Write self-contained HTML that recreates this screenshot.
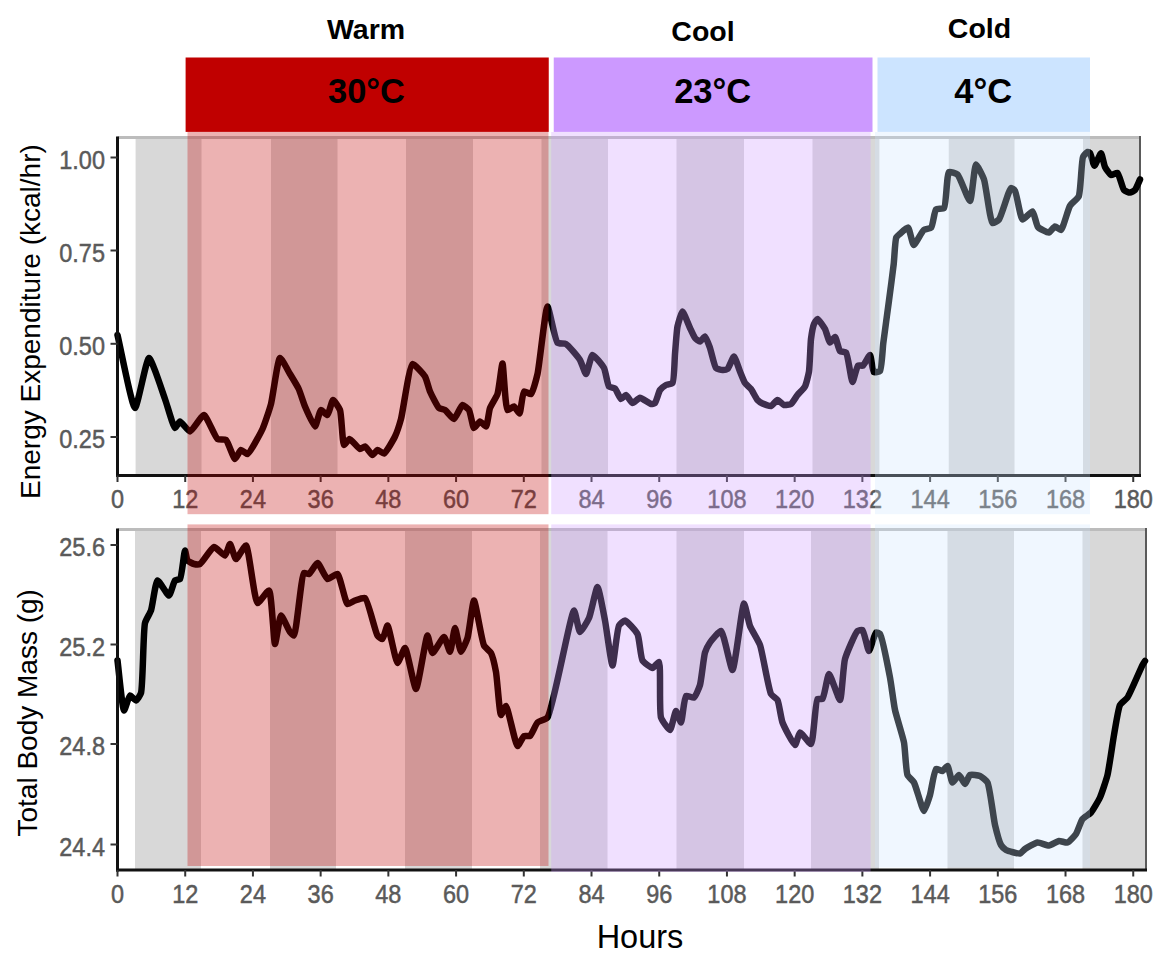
<!DOCTYPE html>
<html><head><meta charset="utf-8"><title>Chart</title>
<style>html,body{margin:0;padding:0;background:#fff;width:1160px;height:976px;overflow:hidden}svg{display:block}</style>
</head><body><svg width="1160" height="976" viewBox="0 0 1160 976"><g><rect x="0" y="0" width="1160" height="976" fill="#fff"/>
<rect x="135.6" y="137.5" width="65.90" height="338.0" fill="#d8d8d8"/>
<rect x="271" y="137.5" width="66.50" height="338.0" fill="#d8d8d8"/>
<rect x="406" y="137.5" width="67.00" height="338.0" fill="#d8d8d8"/>
<rect x="541.5" y="137.5" width="66.50" height="338.0" fill="#d8d8d8"/>
<rect x="676.5" y="137.5" width="67.50" height="338.0" fill="#d8d8d8"/>
<rect x="812.5" y="137.5" width="66.90" height="338.0" fill="#d8d8d8"/>
<rect x="948.75" y="137.5" width="65.75" height="338.0" fill="#d8d8d8"/>
<rect x="1083" y="137.5" width="57.00" height="338.0" fill="#d8d8d8"/>
<rect x="135" y="529.5" width="66.00" height="340.5" fill="#d8d8d8"/>
<rect x="270" y="529.5" width="66.00" height="340.5" fill="#d8d8d8"/>
<rect x="405" y="529.5" width="67.00" height="340.5" fill="#d8d8d8"/>
<rect x="540" y="529.5" width="67.50" height="340.5" fill="#d8d8d8"/>
<rect x="676.5" y="529.5" width="67.50" height="340.5" fill="#d8d8d8"/>
<rect x="811" y="529.5" width="68.00" height="340.5" fill="#d8d8d8"/>
<rect x="947.5" y="529.5" width="66.50" height="340.5" fill="#d8d8d8"/>
<rect x="1082.5" y="529.5" width="62.50" height="340.5" fill="#d8d8d8"/>
<line x1="117.5" y1="137.5" x2="1140" y2="137.5" stroke="#bcbcbc" stroke-width="3"/>
<line x1="1140" y1="136.0" x2="1140" y2="475.5" stroke="#5a5a5a" stroke-width="2"/>
<line x1="117.5" y1="529.5" x2="1146" y2="529.5" stroke="#bcbcbc" stroke-width="3"/>
<line x1="1146" y1="528.0" x2="1146" y2="870" stroke="#5a5a5a" stroke-width="2"/>
<path d="M117.50,335.00 C120.42,347.17 132.14,407.95 135.00,408.00 C137.38,408.04 146.37,358.13 149.00,358.00 C151.42,357.88 162.70,392.74 165.00,399.00 C166.92,404.23 173.37,427.73 175.00,428.00 C175.84,428.14 178.98,421.57 180.00,421.50 C181.34,421.41 188.24,431.57 190.00,431.50 C192.18,431.41 201.83,414.79 204.00,415.00 C206.45,415.24 215.06,437.38 217.50,439.00 C218.86,439.91 224.76,439.11 226.00,440.00 C227.94,441.39 233.56,458.90 235.00,459.00 C236.03,459.08 239.84,450.25 241.00,450.00 C241.97,449.79 246.35,454.28 247.50,454.00 C249.75,453.45 260.52,433.28 262.50,429.00 C264.39,424.93 269.71,408.85 271.00,404.00 C272.72,397.54 277.81,358.40 280.00,358.00 C281.39,357.74 288.41,371.36 290.00,374.00 C291.53,376.53 297.51,386.34 298.75,389.00 C300.03,391.75 303.73,403.53 305.00,406.50 C306.39,409.76 313.62,426.58 315.00,426.50 C316.22,426.43 319.65,410.39 321.00,410.00 C321.92,409.73 326.59,415.26 327.50,415.00 C328.76,414.63 331.86,400.15 333.00,400.00 C334.00,399.87 339.12,407.68 340.00,410.00 C341.49,413.94 342.50,444.51 344.00,445.00 C344.72,445.23 348.41,439.04 349.50,439.00 C350.95,438.95 358.50,448.78 360.00,449.00 C360.93,449.14 364.15,446.33 365.00,446.50 C366.21,446.74 371.36,454.96 372.50,455.00 C373.40,455.03 376.55,450.14 377.50,450.00 C378.47,449.86 382.91,453.78 384.00,453.50 C385.81,453.04 393.57,439.44 395.00,436.50 C396.37,433.69 399.96,422.77 401.00,419.00 C402.81,412.43 409.43,364.91 412.50,364.00 C414.22,363.49 423.53,374.13 425.00,376.50 C426.39,378.74 428.91,388.99 430.00,391.50 C431.19,394.24 437.36,406.63 439.00,408.00 C439.95,408.80 443.98,409.37 445.00,410.00 C446.45,410.90 452.62,419.17 454.00,419.00 C455.57,418.81 461.02,405.28 462.50,405.00 C463.55,404.80 468.13,408.71 469.00,410.00 C470.32,411.95 472.80,427.71 474.00,428.00 C474.83,428.20 478.97,421.57 480.00,421.50 C480.97,421.44 485.22,426.77 486.00,426.50 C487.21,426.08 488.97,410.80 490.00,408.00 C490.94,405.43 496.52,396.88 497.50,394.00 C498.86,389.98 501.74,363.48 502.50,363.50 C503.44,363.53 505.31,408.85 507.50,410.00 C508.37,410.46 513.04,406.30 514.00,406.50 C515.06,406.72 518.76,413.68 519.50,413.50 C520.68,413.22 522.44,392.38 524.00,391.50 C524.90,390.99 530.03,394.48 531.00,394.00 C532.63,393.20 536.47,378.37 537.50,374.00 C539.35,366.12 545.50,306.62 547.50,306.50 C548.98,306.41 554.96,340.50 557.50,342.75 C558.72,343.82 564.56,343.21 566.00,344.00 C568.27,345.24 578.29,357.28 580.00,360.00 C581.45,362.30 585.03,374.04 586.00,374.00 C587.12,373.96 590.91,355.32 592.50,355.00 C593.98,354.70 602.63,365.46 604.00,368.00 C605.44,370.67 607.59,385.01 609.00,386.50 C609.81,387.36 614.12,387.78 615.00,388.50 C616.22,389.50 619.92,398.79 621.00,399.00 C621.79,399.15 625.16,394.91 626.00,395.00 C627.07,395.11 631.29,402.83 632.50,403.00 C633.64,403.16 638.61,397.82 640.00,397.75 C641.64,397.67 649.59,403.81 651.00,404.00 C651.80,404.11 654.41,403.52 655.00,403.00 C656.09,402.04 658.88,391.56 660.00,390.00 C660.84,388.83 664.92,385.59 666.00,385.00 C667.01,384.45 671.70,383.99 672.50,383.00 C674.15,380.96 674.58,358.77 675.00,354.00 C675.41,349.36 676.69,330.35 677.50,326.50 C678.11,323.58 681.51,311.55 682.50,311.50 C683.57,311.44 688.86,325.60 690.00,328.00 C690.90,329.88 694.00,336.84 695.00,338.00 C695.74,338.86 699.20,341.57 700.00,341.50 C700.87,341.42 704.26,336.36 705.00,336.50 C705.99,336.69 709.19,345.79 710.00,348.00 C711.04,350.85 714.43,366.42 716.00,368.00 C716.90,368.90 721.48,369.95 722.50,370.00 C723.38,370.04 726.73,369.57 727.50,369.00 C728.77,368.04 732.99,356.45 734.00,356.50 C735.08,356.55 739.03,369.17 740.00,371.50 C740.86,373.55 743.96,381.47 745.00,383.00 C745.86,384.26 750.05,387.78 751.00,389.00 C752.16,390.50 756.34,398.75 757.50,400.00 C758.30,400.86 761.51,403.02 762.50,403.50 C763.69,404.07 769.75,406.29 771.00,406.00 C772.25,405.71 776.40,400.05 777.50,400.00 C778.56,399.95 782.83,404.69 784.00,405.00 C785.09,405.29 789.97,404.62 791.00,404.00 C792.29,403.22 796.34,396.45 797.50,395.00 C798.67,393.53 804.06,388.25 805.00,386.50 C806.10,384.45 808.51,374.51 809.00,371.50 C809.71,367.15 810.43,343.37 811.00,339.00 C811.39,336.01 813.24,325.78 814.00,324.00 C814.48,322.88 816.80,319.01 817.50,319.00 C818.51,318.98 823.98,327.13 825.00,329.00 C826.10,331.01 828.98,342.30 830.00,342.50 C830.74,342.64 834.27,336.85 835.00,337.00 C836.04,337.21 838.73,349.85 840.00,351.00 C840.82,351.74 845.16,351.63 846.00,352.50 C847.86,354.41 851.34,381.94 852.50,382.00 C853.37,382.05 856.67,366.56 858.00,365.60 C858.71,365.09 862.21,366.03 863.00,365.60 C864.27,364.92 869.12,354.84 870.00,355.00 C871.02,355.19 872.44,371.11 873.75,372.00 C874.54,372.54 879.21,371.82 880.00,371.00 C881.67,369.26 882.65,348.15 883.30,343.00 C884.10,336.65 888.10,307.33 889.00,300.50 C889.84,294.15 893.12,269.37 893.75,263.75 C894.28,259.01 895.16,239.82 896.25,237.50 C896.74,236.46 899.23,234.43 900.00,233.75 C901.06,232.81 906.93,227.18 908.00,227.50 C909.44,227.94 912.43,244.82 913.75,245.00 C915.06,245.18 921.95,231.37 923.75,230.00 C924.94,229.09 930.29,228.52 931.25,227.50 C932.72,225.93 934.47,210.92 936.00,209.50 C937.01,208.56 942.97,209.08 944.00,208.00 C946.18,205.71 946.80,173.42 949.00,172.00 C950.08,171.30 956.18,173.37 957.50,174.50 C959.90,176.56 968.48,201.21 970.00,201.00 C971.71,200.76 974.42,164.76 976.00,164.50 C977.07,164.32 982.84,176.24 984.00,179.50 C985.87,184.77 990.20,221.91 992.50,223.00 C993.44,223.44 997.96,220.68 999.00,219.50 C1001.21,216.98 1009.18,188.57 1011.00,188.00 C1011.69,187.78 1014.38,189.87 1015.00,190.75 C1016.53,192.94 1020.48,218.84 1022.50,219.50 C1023.83,219.94 1031.24,211.04 1032.50,211.40 C1033.93,211.81 1036.45,225.21 1038.00,227.00 C1039.33,228.53 1047.27,232.83 1048.75,232.60 C1050.01,232.41 1053.92,226.53 1055.00,226.40 C1055.97,226.28 1060.08,230.32 1061.00,230.00 C1062.78,229.38 1068.16,208.72 1070.00,205.75 C1071.29,203.66 1077.67,198.75 1078.75,196.40 C1080.64,192.27 1081.50,160.35 1083.00,157.00 C1083.62,155.62 1086.81,152.16 1087.50,152.00 C1087.94,151.90 1089.61,152.59 1090.00,153.00 C1090.87,153.91 1093.50,165.68 1094.40,165.75 C1095.32,165.82 1100.12,153.16 1101.00,153.25 C1101.89,153.34 1104.04,165.09 1105.00,167.00 C1105.80,168.60 1109.83,174.62 1111.00,175.00 C1111.97,175.31 1116.58,172.55 1117.50,173.00 C1119.01,173.74 1122.55,188.49 1124.00,190.00 C1124.87,190.91 1129.05,192.63 1130.00,192.60 C1130.88,192.57 1134.27,190.76 1135.00,190.00 C1136.05,188.91 1139.17,181.25 1140.00,179.50" fill="none" stroke="#000" stroke-width="6.5" stroke-linejoin="round" stroke-linecap="round"/>
<path d="M117.50,660.50 C118.58,668.83 122.48,710.31 124.00,710.50 C124.86,710.61 128.74,695.82 130.00,695.50 C130.88,695.28 135.11,700.63 136.00,700.50 C136.96,700.36 140.32,695.02 141.00,693.00 C142.89,687.35 143.24,629.83 145.00,623.00 C145.78,619.96 150.11,613.10 151.00,610.50 C152.33,606.64 155.66,580.91 157.50,580.50 C158.95,580.18 167.52,595.70 169.00,595.50 C170.37,595.31 173.70,581.69 175.00,580.50 C175.74,579.83 179.31,579.78 180.00,579.00 C181.63,577.17 184.25,550.53 185.00,550.50 C185.45,550.48 186.62,559.36 187.50,560.50 C188.25,561.46 192.90,563.72 194.00,564.00 C194.99,564.25 198.93,564.51 200.00,564.00 C202.06,563.03 211.68,547.26 214.00,547.00 C215.84,546.79 223.66,555.84 225.00,555.50 C226.28,555.17 229.14,543.99 230.00,544.00 C230.97,544.01 234.69,558.83 236.00,559.00 C237.34,559.17 244.56,545.18 246.00,545.50 C248.70,546.10 254.51,602.16 257.50,603.00 C259.11,603.45 267.57,590.03 269.00,590.50 C271.54,591.33 273.79,643.94 275.00,644.00 C275.89,644.04 279.52,615.72 281.00,615.50 C282.19,615.33 288.66,630.33 290.00,632.00 C290.71,632.89 293.37,635.73 294.00,635.50 C296.16,634.72 301.34,574.85 304.00,573.00 C304.75,572.48 308.16,574.32 309.00,574.00 C310.39,573.48 316.08,562.93 317.50,563.00 C319.16,563.08 325.55,578.45 327.50,579.00 C329.00,579.42 336.09,573.41 337.50,574.00 C339.88,574.99 345.32,603.06 347.50,604.00 C348.62,604.48 353.63,600.98 355.00,600.50 C356.52,599.96 363.54,597.20 365.00,598.00 C367.86,599.57 375.39,632.67 377.50,635.50 C378.33,636.61 381.78,639.22 382.50,639.00 C383.60,638.66 386.60,625.46 387.50,625.50 C388.98,625.57 395.69,662.82 397.50,663.00 C398.69,663.12 403.79,647.88 405.00,648.00 C406.93,648.20 414.23,689.04 416.00,689.00 C418.00,688.95 425.88,635.55 427.50,635.50 C428.43,635.47 431.17,652.77 432.50,653.00 C433.88,653.24 442.51,636.82 444.00,637.00 C445.34,637.16 449.15,651.83 450.00,651.75 C451.06,651.66 454.09,628.02 455.00,628.00 C455.92,627.98 459.79,651.63 461.00,651.75 C461.95,651.84 466.57,640.93 467.50,638.00 C468.97,633.36 472.71,600.53 474.00,600.50 C475.42,600.47 481.79,641.30 484.00,645.50 C485.04,647.48 490.07,651.31 491.00,653.00 C492.29,655.33 495.28,668.16 496.00,672.00 C497.07,677.69 499.58,714.72 501.00,715.00 C501.69,715.14 505.13,705.90 506.00,706.00 C507.76,706.20 515.51,745.70 517.50,746.00 C518.56,746.16 522.73,736.69 524.00,736.00 C524.90,735.51 529.08,736.54 530.00,736.00 C531.47,735.14 535.87,724.06 537.50,722.50 C538.89,721.17 545.90,719.50 547.50,717.50 C552.54,711.21 571.10,610.54 574.00,610.50 C575.31,610.48 578.60,631.79 580.00,632.00 C581.21,632.18 587.70,620.91 589.00,618.00 C590.81,613.95 596.19,586.97 597.50,587.00 C598.86,587.03 603.83,614.49 605.00,620.50 C606.35,627.43 611.30,665.50 612.50,665.50 C613.63,665.50 617.09,628.85 619.00,625.50 C619.84,624.03 623.86,620.43 625.00,620.50 C626.75,620.61 636.05,631.12 637.50,634.00 C639.26,637.49 640.71,657.62 642.50,660.50 C643.72,662.46 651.04,668.07 652.50,668.00 C653.73,667.94 658.19,661.66 659.00,662.00 C661.04,662.85 659.02,711.72 661.00,717.50 C662.04,720.55 668.79,730.19 670.00,730.00 C671.38,729.78 674.97,711.05 676.00,711.00 C676.82,710.96 680.27,722.58 681.00,722.50 C682.06,722.38 684.14,697.27 686.00,696.00 C687.02,695.30 692.91,698.05 694.00,697.50 C695.42,696.78 699.18,687.65 700.00,685.00 C701.26,680.92 703.79,656.30 705.00,652.50 C705.71,650.28 708.85,644.14 710.00,642.50 C711.38,640.54 719.41,630.61 721.00,631.00 C723.54,631.62 730.77,670.10 732.50,670.00 C734.73,669.87 742.22,603.58 744.00,603.50 C745.05,603.45 748.62,622.48 750.00,626.00 C751.32,629.38 758.52,640.97 760.00,645.00 C762.27,651.16 768.64,689.91 771.00,694.00 C771.99,695.72 776.63,698.49 777.50,700.00 C778.90,702.43 781.11,718.85 782.50,722.50 C783.97,726.36 793.46,745.10 795.00,745.00 C796.12,744.93 798.76,732.74 800.00,732.50 C801.35,732.24 809.61,744.45 811.00,744.00 C813.35,743.25 815.34,700.87 817.50,699.00 C818.22,698.38 821.78,699.56 822.50,699.00 C824.15,697.73 827.59,674.10 829.00,674.00 C830.48,673.89 838.68,700.18 840.00,700.00 C841.59,699.78 843.32,665.07 845.00,659.00 C846.45,653.77 855.44,632.64 857.50,631.00 C858.34,630.33 861.77,629.56 862.50,630.00 C864.02,630.90 867.84,650.96 869.00,651.00 C870.10,651.03 874.65,633.11 876.00,632.50 C876.63,632.22 879.37,633.28 880.00,634.00 C882.04,636.33 888.71,670.76 890.00,677.50 C891.11,683.29 893.84,704.62 895.00,710.00 C896.17,715.45 902.96,737.04 904.00,742.50 C905.03,747.88 906.03,771.61 907.50,775.00 C908.31,776.87 912.96,780.71 914.00,782.50 C915.81,785.62 922.53,810.98 924.00,811.00 C925.11,811.01 929.09,798.02 930.00,795.00 C931.14,791.22 934.24,770.01 936.00,769.00 C936.89,768.49 941.55,771.24 942.50,771.00 C943.47,770.76 946.78,765.82 947.50,766.00 C948.62,766.28 951.33,782.25 952.50,782.50 C953.39,782.69 957.98,774.94 959.00,775.00 C960.07,775.07 964.07,784.04 965.00,784.00 C965.90,783.96 968.74,775.66 970.00,775.00 C971.25,774.35 978.54,775.37 980.00,776.00 C981.45,776.63 986.46,780.67 987.50,782.50 C989.67,786.32 993.64,819.27 995.00,825.00 C995.95,828.99 999.73,842.87 1001.00,845.00 C1001.74,846.24 1004.84,849.34 1006.00,850.00 C1007.66,850.94 1018.33,853.92 1020.00,853.50 C1021.14,853.22 1023.92,849.75 1025.00,849.00 C1026.56,847.92 1035.41,842.73 1037.50,842.50 C1039.42,842.28 1047.18,845.65 1049.00,845.50 C1050.75,845.35 1057.37,841.20 1059.00,841.00 C1060.45,840.82 1066.18,842.92 1067.50,842.50 C1069.05,842.01 1074.81,835.75 1076.00,834.00 C1077.39,831.96 1081.05,820.86 1082.50,819.00 C1083.68,817.50 1089.69,813.97 1091.00,812.50 C1092.67,810.63 1098.70,800.33 1100.00,797.50 C1101.52,794.20 1106.43,779.34 1107.50,775.00 C1108.90,769.33 1112.88,741.18 1114.00,735.00 C1114.97,729.63 1118.29,708.19 1120.00,705.00 C1121.00,703.12 1126.21,699.35 1127.50,697.50 C1129.87,694.10 1140.99,667.79 1142.50,665.00 C1143.05,663.99 1144.58,661.67 1145.00,661.00" fill="none" stroke="#000" stroke-width="6.5" stroke-linejoin="round" stroke-linecap="round"/>
<line x1="117.5" y1="136.5" x2="117.5" y2="477.0" stroke="#111" stroke-width="3"/>
<line x1="116.0" y1="475.5" x2="1141" y2="475.5" stroke="#111" stroke-width="3"/>
<line x1="117.5" y1="528.5" x2="117.5" y2="871.5" stroke="#111" stroke-width="3"/>
<line x1="116.0" y1="870" x2="1147" y2="870" stroke="#111" stroke-width="3"/>
<line x1="110.5" y1="157.5" x2="117.5" y2="157.5" stroke="#333" stroke-width="2"/>
<line x1="110.5" y1="250.5" x2="117.5" y2="250.5" stroke="#333" stroke-width="2"/>
<line x1="110.5" y1="343.8" x2="117.5" y2="343.8" stroke="#333" stroke-width="2"/>
<line x1="110.5" y1="437" x2="117.5" y2="437" stroke="#333" stroke-width="2"/>
<line x1="110.5" y1="545" x2="117.5" y2="545" stroke="#333" stroke-width="2"/>
<line x1="110.5" y1="644.5" x2="117.5" y2="644.5" stroke="#333" stroke-width="2"/>
<line x1="110.5" y1="744" x2="117.5" y2="744" stroke="#333" stroke-width="2"/>
<line x1="110.5" y1="844.5" x2="117.5" y2="844.5" stroke="#333" stroke-width="2"/>
<line x1="117.50" y1="475.5" x2="117.50" y2="482.0" stroke="#333" stroke-width="2"/>
<line x1="117.50" y1="870" x2="117.50" y2="876.5" stroke="#333" stroke-width="2"/>
<line x1="185.22" y1="475.5" x2="185.22" y2="482.0" stroke="#333" stroke-width="2"/>
<line x1="185.22" y1="870" x2="185.22" y2="876.5" stroke="#333" stroke-width="2"/>
<line x1="252.93" y1="475.5" x2="252.93" y2="482.0" stroke="#333" stroke-width="2"/>
<line x1="252.93" y1="870" x2="252.93" y2="876.5" stroke="#333" stroke-width="2"/>
<line x1="320.65" y1="475.5" x2="320.65" y2="482.0" stroke="#333" stroke-width="2"/>
<line x1="320.65" y1="870" x2="320.65" y2="876.5" stroke="#333" stroke-width="2"/>
<line x1="388.36" y1="475.5" x2="388.36" y2="482.0" stroke="#333" stroke-width="2"/>
<line x1="388.36" y1="870" x2="388.36" y2="876.5" stroke="#333" stroke-width="2"/>
<line x1="456.08" y1="475.5" x2="456.08" y2="482.0" stroke="#333" stroke-width="2"/>
<line x1="456.08" y1="870" x2="456.08" y2="876.5" stroke="#333" stroke-width="2"/>
<line x1="523.80" y1="475.5" x2="523.80" y2="482.0" stroke="#333" stroke-width="2"/>
<line x1="523.80" y1="870" x2="523.80" y2="876.5" stroke="#333" stroke-width="2"/>
<line x1="591.51" y1="475.5" x2="591.51" y2="482.0" stroke="#333" stroke-width="2"/>
<line x1="591.51" y1="870" x2="591.51" y2="876.5" stroke="#333" stroke-width="2"/>
<line x1="659.23" y1="475.5" x2="659.23" y2="482.0" stroke="#333" stroke-width="2"/>
<line x1="659.23" y1="870" x2="659.23" y2="876.5" stroke="#333" stroke-width="2"/>
<line x1="726.94" y1="475.5" x2="726.94" y2="482.0" stroke="#333" stroke-width="2"/>
<line x1="726.94" y1="870" x2="726.94" y2="876.5" stroke="#333" stroke-width="2"/>
<line x1="794.66" y1="475.5" x2="794.66" y2="482.0" stroke="#333" stroke-width="2"/>
<line x1="794.66" y1="870" x2="794.66" y2="876.5" stroke="#333" stroke-width="2"/>
<line x1="862.38" y1="475.5" x2="862.38" y2="482.0" stroke="#333" stroke-width="2"/>
<line x1="862.38" y1="870" x2="862.38" y2="876.5" stroke="#333" stroke-width="2"/>
<line x1="930.09" y1="475.5" x2="930.09" y2="482.0" stroke="#333" stroke-width="2"/>
<line x1="930.09" y1="870" x2="930.09" y2="876.5" stroke="#333" stroke-width="2"/>
<line x1="997.81" y1="475.5" x2="997.81" y2="482.0" stroke="#333" stroke-width="2"/>
<line x1="997.81" y1="870" x2="997.81" y2="876.5" stroke="#333" stroke-width="2"/>
<line x1="1065.52" y1="475.5" x2="1065.52" y2="482.0" stroke="#333" stroke-width="2"/>
<line x1="1065.52" y1="870" x2="1065.52" y2="876.5" stroke="#333" stroke-width="2"/>
<line x1="1133.24" y1="475.5" x2="1133.24" y2="482.0" stroke="#333" stroke-width="2"/>
<line x1="1133.24" y1="870" x2="1133.24" y2="876.5" stroke="#333" stroke-width="2"/>
<text transform="translate(105.00,168.5) scale(1,1.12)" text-anchor="end" font-family="Liberation Sans, sans-serif" fill="#5a5a5a" stroke="#5a5a5a" stroke-width="0.45" font-size="23.5">1.00</text>
<text transform="translate(105.00,261.5) scale(1,1.12)" text-anchor="end" font-family="Liberation Sans, sans-serif" fill="#5a5a5a" stroke="#5a5a5a" stroke-width="0.45" font-size="23.5">0.75</text>
<text transform="translate(105.00,354.8) scale(1,1.12)" text-anchor="end" font-family="Liberation Sans, sans-serif" fill="#5a5a5a" stroke="#5a5a5a" stroke-width="0.45" font-size="23.5">0.50</text>
<text transform="translate(105.00,448) scale(1,1.12)" text-anchor="end" font-family="Liberation Sans, sans-serif" fill="#5a5a5a" stroke="#5a5a5a" stroke-width="0.45" font-size="23.5">0.25</text>
<text transform="translate(105.00,556) scale(1,1.12)" text-anchor="end" font-family="Liberation Sans, sans-serif" fill="#5a5a5a" stroke="#5a5a5a" stroke-width="0.45" font-size="23.5">25.6</text>
<text transform="translate(105.00,655.5) scale(1,1.12)" text-anchor="end" font-family="Liberation Sans, sans-serif" fill="#5a5a5a" stroke="#5a5a5a" stroke-width="0.45" font-size="23.5">25.2</text>
<text transform="translate(105.00,755) scale(1,1.12)" text-anchor="end" font-family="Liberation Sans, sans-serif" fill="#5a5a5a" stroke="#5a5a5a" stroke-width="0.45" font-size="23.5">24.8</text>
<text transform="translate(105.00,855.5) scale(1,1.12)" text-anchor="end" font-family="Liberation Sans, sans-serif" fill="#5a5a5a" stroke="#5a5a5a" stroke-width="0.45" font-size="23.5">24.4</text>
<text transform="translate(117.50,508) scale(1,1.12)" text-anchor="middle" font-family="Liberation Sans, sans-serif" fill="#5a5a5a" stroke="#5a5a5a" stroke-width="0.45" font-size="23.5">0</text>
<text transform="translate(117.50,903) scale(1,1.12)" text-anchor="middle" font-family="Liberation Sans, sans-serif" fill="#5a5a5a" stroke="#5a5a5a" stroke-width="0.45" font-size="23.5">0</text>
<text transform="translate(185.22,508) scale(1,1.12)" text-anchor="middle" font-family="Liberation Sans, sans-serif" fill="#5a5a5a" stroke="#5a5a5a" stroke-width="0.45" font-size="23.5">12</text>
<text transform="translate(185.22,903) scale(1,1.12)" text-anchor="middle" font-family="Liberation Sans, sans-serif" fill="#5a5a5a" stroke="#5a5a5a" stroke-width="0.45" font-size="23.5">12</text>
<text transform="translate(252.93,508) scale(1,1.12)" text-anchor="middle" font-family="Liberation Sans, sans-serif" fill="#5a5a5a" stroke="#5a5a5a" stroke-width="0.45" font-size="23.5">24</text>
<text transform="translate(252.93,903) scale(1,1.12)" text-anchor="middle" font-family="Liberation Sans, sans-serif" fill="#5a5a5a" stroke="#5a5a5a" stroke-width="0.45" font-size="23.5">24</text>
<text transform="translate(320.65,508) scale(1,1.12)" text-anchor="middle" font-family="Liberation Sans, sans-serif" fill="#5a5a5a" stroke="#5a5a5a" stroke-width="0.45" font-size="23.5">36</text>
<text transform="translate(320.65,903) scale(1,1.12)" text-anchor="middle" font-family="Liberation Sans, sans-serif" fill="#5a5a5a" stroke="#5a5a5a" stroke-width="0.45" font-size="23.5">36</text>
<text transform="translate(388.36,508) scale(1,1.12)" text-anchor="middle" font-family="Liberation Sans, sans-serif" fill="#5a5a5a" stroke="#5a5a5a" stroke-width="0.45" font-size="23.5">48</text>
<text transform="translate(388.36,903) scale(1,1.12)" text-anchor="middle" font-family="Liberation Sans, sans-serif" fill="#5a5a5a" stroke="#5a5a5a" stroke-width="0.45" font-size="23.5">48</text>
<text transform="translate(456.08,508) scale(1,1.12)" text-anchor="middle" font-family="Liberation Sans, sans-serif" fill="#5a5a5a" stroke="#5a5a5a" stroke-width="0.45" font-size="23.5">60</text>
<text transform="translate(456.08,903) scale(1,1.12)" text-anchor="middle" font-family="Liberation Sans, sans-serif" fill="#5a5a5a" stroke="#5a5a5a" stroke-width="0.45" font-size="23.5">60</text>
<text transform="translate(523.80,508) scale(1,1.12)" text-anchor="middle" font-family="Liberation Sans, sans-serif" fill="#5a5a5a" stroke="#5a5a5a" stroke-width="0.45" font-size="23.5">72</text>
<text transform="translate(523.80,903) scale(1,1.12)" text-anchor="middle" font-family="Liberation Sans, sans-serif" fill="#5a5a5a" stroke="#5a5a5a" stroke-width="0.45" font-size="23.5">72</text>
<text transform="translate(591.51,508) scale(1,1.12)" text-anchor="middle" font-family="Liberation Sans, sans-serif" fill="#5a5a5a" stroke="#5a5a5a" stroke-width="0.45" font-size="23.5">84</text>
<text transform="translate(591.51,903) scale(1,1.12)" text-anchor="middle" font-family="Liberation Sans, sans-serif" fill="#5a5a5a" stroke="#5a5a5a" stroke-width="0.45" font-size="23.5">84</text>
<text transform="translate(659.23,508) scale(1,1.12)" text-anchor="middle" font-family="Liberation Sans, sans-serif" fill="#5a5a5a" stroke="#5a5a5a" stroke-width="0.45" font-size="23.5">96</text>
<text transform="translate(659.23,903) scale(1,1.12)" text-anchor="middle" font-family="Liberation Sans, sans-serif" fill="#5a5a5a" stroke="#5a5a5a" stroke-width="0.45" font-size="23.5">96</text>
<text transform="translate(726.94,508) scale(1,1.12)" text-anchor="middle" font-family="Liberation Sans, sans-serif" fill="#5a5a5a" stroke="#5a5a5a" stroke-width="0.45" font-size="23.5">108</text>
<text transform="translate(726.94,903) scale(1,1.12)" text-anchor="middle" font-family="Liberation Sans, sans-serif" fill="#5a5a5a" stroke="#5a5a5a" stroke-width="0.45" font-size="23.5">108</text>
<text transform="translate(794.66,508) scale(1,1.12)" text-anchor="middle" font-family="Liberation Sans, sans-serif" fill="#5a5a5a" stroke="#5a5a5a" stroke-width="0.45" font-size="23.5">120</text>
<text transform="translate(794.66,903) scale(1,1.12)" text-anchor="middle" font-family="Liberation Sans, sans-serif" fill="#5a5a5a" stroke="#5a5a5a" stroke-width="0.45" font-size="23.5">120</text>
<text transform="translate(862.38,508) scale(1,1.12)" text-anchor="middle" font-family="Liberation Sans, sans-serif" fill="#5a5a5a" stroke="#5a5a5a" stroke-width="0.45" font-size="23.5">132</text>
<text transform="translate(862.38,903) scale(1,1.12)" text-anchor="middle" font-family="Liberation Sans, sans-serif" fill="#5a5a5a" stroke="#5a5a5a" stroke-width="0.45" font-size="23.5">132</text>
<text transform="translate(930.09,508) scale(1,1.12)" text-anchor="middle" font-family="Liberation Sans, sans-serif" fill="#5a5a5a" stroke="#5a5a5a" stroke-width="0.45" font-size="23.5">144</text>
<text transform="translate(930.09,903) scale(1,1.12)" text-anchor="middle" font-family="Liberation Sans, sans-serif" fill="#5a5a5a" stroke="#5a5a5a" stroke-width="0.45" font-size="23.5">144</text>
<text transform="translate(997.81,508) scale(1,1.12)" text-anchor="middle" font-family="Liberation Sans, sans-serif" fill="#5a5a5a" stroke="#5a5a5a" stroke-width="0.45" font-size="23.5">156</text>
<text transform="translate(997.81,903) scale(1,1.12)" text-anchor="middle" font-family="Liberation Sans, sans-serif" fill="#5a5a5a" stroke="#5a5a5a" stroke-width="0.45" font-size="23.5">156</text>
<text transform="translate(1065.52,508) scale(1,1.12)" text-anchor="middle" font-family="Liberation Sans, sans-serif" fill="#5a5a5a" stroke="#5a5a5a" stroke-width="0.45" font-size="23.5">168</text>
<text transform="translate(1065.52,903) scale(1,1.12)" text-anchor="middle" font-family="Liberation Sans, sans-serif" fill="#5a5a5a" stroke="#5a5a5a" stroke-width="0.45" font-size="23.5">168</text>
<text transform="translate(1133.24,508) scale(1,1.12)" text-anchor="middle" font-family="Liberation Sans, sans-serif" fill="#5a5a5a" stroke="#5a5a5a" stroke-width="0.45" font-size="23.5">180</text>
<text transform="translate(1133.24,903) scale(1,1.12)" text-anchor="middle" font-family="Liberation Sans, sans-serif" fill="#5a5a5a" stroke="#5a5a5a" stroke-width="0.45" font-size="23.5">180</text>
<rect x="187.5" y="132" width="361.0" height="382.20000000000005" fill="#c00000" fill-opacity="0.3"/>
<rect x="551.25" y="132" width="319.35" height="382.20000000000005" fill="#cc99ff" fill-opacity="0.3"/>
<rect x="875" y="132" width="215" height="382.20000000000005" fill="#cce4ff" fill-opacity="0.3"/>
<rect x="187.5" y="524.4" width="361.0" height="341.6" fill="#c00000" fill-opacity="0.3"/>
<rect x="551.25" y="524.4" width="319.35" height="347.6" fill="#cc99ff" fill-opacity="0.3"/>
<rect x="875" y="524.4" width="215" height="343.1" fill="#cce4ff" fill-opacity="0.3"/>
<rect x="185.6" y="57.5" width="363.15" height="74.4" fill="#c00000"/>
<rect x="553.75" y="57.5" width="318.75" height="74.4" fill="#cc99ff"/>
<rect x="877.5" y="57.5" width="212.5" height="74.4" fill="#cce4ff"/>
<text x="366" y="38.7" text-anchor="middle" font-size="28.5" font-family="Liberation Sans, sans-serif" font-weight="bold" fill="#000">Warm</text>
<text x="703" y="40.7" text-anchor="middle" font-size="28.5" font-family="Liberation Sans, sans-serif" font-weight="bold" fill="#000">Cool</text>
<text x="979.5" y="38.2" text-anchor="middle" font-size="28.5" font-family="Liberation Sans, sans-serif" font-weight="bold" fill="#000">Cold</text>
<text x="366.5" y="102.6" text-anchor="middle" font-size="34.5" font-family="Liberation Sans, sans-serif" font-weight="bold" fill="#000">30°C</text>
<text x="712.7" y="102.6" text-anchor="middle" font-size="34.5" font-family="Liberation Sans, sans-serif" font-weight="bold" fill="#000">23°C</text>
<text x="983.3" y="102.6" text-anchor="middle" font-size="34.5" font-family="Liberation Sans, sans-serif" font-weight="bold" fill="#000">4°C</text>
<text transform="translate(39.5,321.6) rotate(-90)" text-anchor="middle" font-size="28" font-family="Liberation Sans, sans-serif" fill="#000">Energy Expenditure (kcal/hr)</text>
<text transform="translate(37,712.8) rotate(-90)" text-anchor="middle" font-size="28" font-family="Liberation Sans, sans-serif" fill="#000">Total Body Mass (g)</text>
<text x="640" y="948" text-anchor="middle" font-size="32.5" font-family="Liberation Sans, sans-serif" fill="#000">Hours</text></g></svg></body></html>
